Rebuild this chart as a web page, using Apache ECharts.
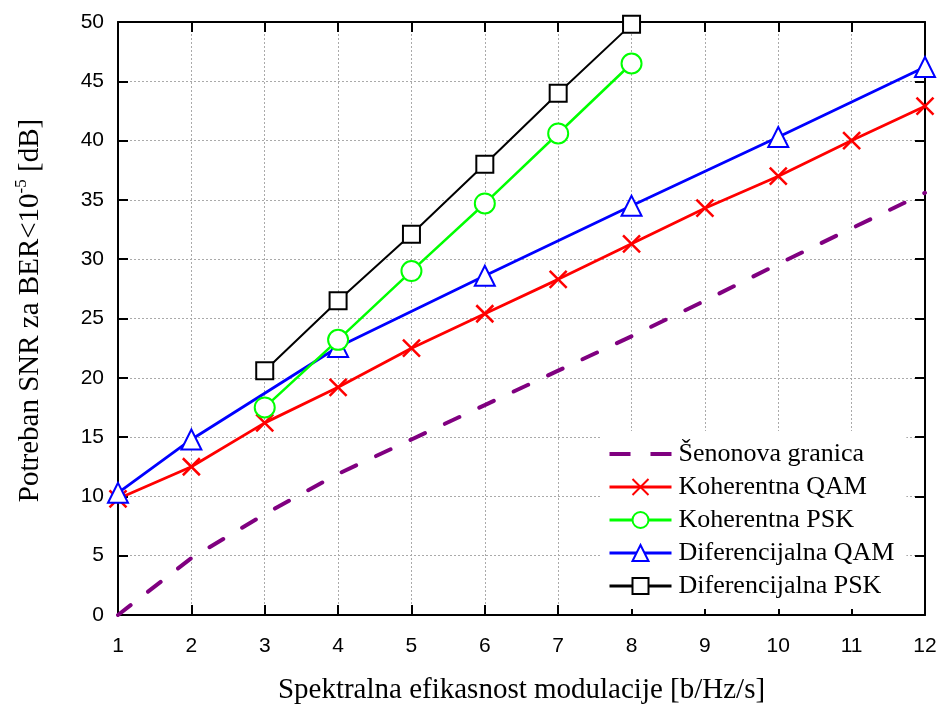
<!DOCTYPE html>
<html>
<head>
<meta charset="utf-8">
<script src="https://cdn.jsdelivr.net/npm/echarts@6/dist/echarts.min.js"></script>
<style>html,body{margin:0;padding:0;background:#fff}#c{width:941px;height:705px}</style>
</head>
<body>
<div id="c"></div>
<script>
var seriesNames = ['Šenonova granica', 'Koherentna QAM', 'Koherentna PSK', 'Diferencijalna QAM', 'Diferencijalna PSK'];
var shannonX = [1, 2, 3, 4, 5, 6, 7, 8, 9, 10, 11, 12];
var shannonY = [0, 4.8, 8.5, 11.9, 14.8, 17.7, 20.6, 23.5, 26.5, 29.6, 32.6, 35.6];
var kQamX = [1, 2, 3, 4, 5, 6, 7, 8, 9, 10, 11, 12];
var kQamY = [9.8, 12.5, 16.2, 19.2, 22.5, 25.4, 28.3, 31.3, 34.3, 37.0, 40.0, 42.9];
var kPskX = [3, 4, 5, 6, 7, 8];
var kPskY = [17.5, 23.2, 29.0, 34.7, 40.6, 46.5];
var dQamX = [1, 2, 4, 6, 8, 10, 12];
var dQamY = [10.3, 14.8, 22.6, 28.6, 34.5, 40.3, 46.2];
var dPskX = [3, 4, 5, 6, 7, 8];
var dPskY = [20.6, 26.5, 32.1, 38.0, 44.0, 49.8];
var xTicks = [1, 2, 3, 4, 5, 6, 7, 8, 9, 10, 11, 12];
var yTicks = [0, 5, 10, 15, 20, 25, 30, 35, 40, 45, 50];

function pairs(xs, ys) { return xs.map(function (x, i) { return [x, ys[i]]; }); }

var chart = echarts.init(document.getElementById('c'));
var serif = 'Liberation Serif';
var sans = 'Liberation Sans';
var gridLine = { show: true, lineStyle: { color: '#aaa', type: [2, 2], width: 1 } };
var axisLine = { show: true, onZero: false, lineStyle: { color: '#000', width: 2 } };
var tickIn = { show: true, inside: true, length: 10, lineStyle: { color: '#000', width: 2 } };
var xPath = 'path://M0,0L10,10M10,0L0,10';
var dashIcon = 'path://M0,0h20v4h-20z M39,0h20v4h-20z';

chart.setOption({
  animation: false,
  backgroundColor: '#fff',
  grid: { left: 118, right: 16, top: 22, bottom: 90, containLabel: false, outerBoundsMode: 'none' },
  legend: {
    data: [
      { name: seriesNames[0], icon: dashIcon },
      { name: seriesNames[1] },
      { name: seriesNames[2] },
      { name: seriesNames[3] },
      { name: seriesNames[4] }
    ],
    orient: 'vertical',
    left: 600, top: 431,
    padding: [10, 12, 10, 8],
    itemWidth: 62, itemHeight: 20, itemGap: 7,
    backgroundColor: '#fff',
    lineStyle: { width: 3 },
    textStyle: { fontFamily: serif, fontSize: 26, lineHeight: 26, color: '#000', padding: [0, 0, 0, 2] }
  },
  xAxis: [{
    type: 'value', min: 1, max: 12, interval: 1, position: 'bottom',
    name: 'Spektralna efikasnost modulacije [b/Hz/s]', nameLocation: 'middle', nameGap: 61,
    nameTextStyle: { fontFamily: serif, fontSize: 29, color: '#000' },
    axisLine: axisLine, axisTick: tickIn, splitLine: gridLine,
    axisLabel: { fontFamily: sans, fontSize: 21, color: '#000', margin: 21 }
  }, {
    type: 'value', min: 1, max: 12, interval: 1, position: 'top',
    axisLine: axisLine, axisTick: tickIn, splitLine: { show: false }, axisLabel: { show: false }
  }],
  yAxis: [{
    type: 'value', min: 0, max: 50, interval: 5, position: 'left',
    name: '{a|Potreban SNR za BER<10}{s|-5}{a| [dB]}', nameLocation: 'middle', nameGap: 73,
    nameTextStyle: {
      fontFamily: serif, fontSize: 29, color: '#000', padding: [0, 0, 0, 16],
      rich: {
        a: { fontFamily: serif, fontSize: 29, color: '#000', lineHeight: 32, verticalAlign: 'bottom' },
        s: { fontFamily: serif, fontSize: 17, color: '#000', lineHeight: 32, verticalAlign: 'top', padding: [0, 0, 14, 0] }
      }
    },
    axisLine: axisLine, axisTick: tickIn, splitLine: gridLine,
    axisLabel: { fontFamily: sans, fontSize: 21, color: '#000', margin: 14 }
  }, {
    type: 'value', min: 0, max: 50, interval: 5, position: 'right',
    axisLine: axisLine, axisTick: tickIn, splitLine: { show: false }, axisLabel: { show: false }
  }],
  series: [{
    name: seriesNames[0], type: 'line', data: pairs(shannonX, shannonY),
    symbol: 'none', lineStyle: { color: '#800080', width: 4, type: [16, 22], cap: 'round' },
    itemStyle: { color: '#800080' }, z: 1
  }, {
    name: seriesNames[1], type: 'line', data: pairs(kQamX, kQamY),
    symbol: xPath, symbolSize: 17, showAllSymbol: true,
    lineStyle: { color: '#ff0000', width: 2.8 },
    itemStyle: { color: '#ff0000', borderColor: '#ff0000', borderWidth: 2.5 }, z: 2
  }, {
    name: seriesNames[2], type: 'line', data: pairs(kPskX, kPskY),
    symbol: 'emptyCircle', symbolSize: 20,
    lineStyle: { color: '#00ff00', width: 2.5 },
    itemStyle: { color: '#00ff00', borderColor: '#00ff00', borderWidth: 2.8 }, z: 4
  }, {
    name: seriesNames[3], type: 'line', data: pairs(dQamX, dQamY),
    symbol: 'emptyTriangle', symbolSize: 20,
    lineStyle: { color: '#0000ff', width: 2.8 },
    itemStyle: { color: '#0000ff', borderColor: '#0000ff', borderWidth: 2.8 }, z: 3
  }, {
    name: seriesNames[4], type: 'line', data: pairs(dPskX, dPskY),
    symbol: 'emptyRect', symbolSize: 17, clip: false,
    lineStyle: { color: '#000000', width: 2 },
    itemStyle: { color: '#000000', borderColor: '#000000', borderWidth: 2.8 }, z: 5
  }]
});
</script>
</body>
</html>
